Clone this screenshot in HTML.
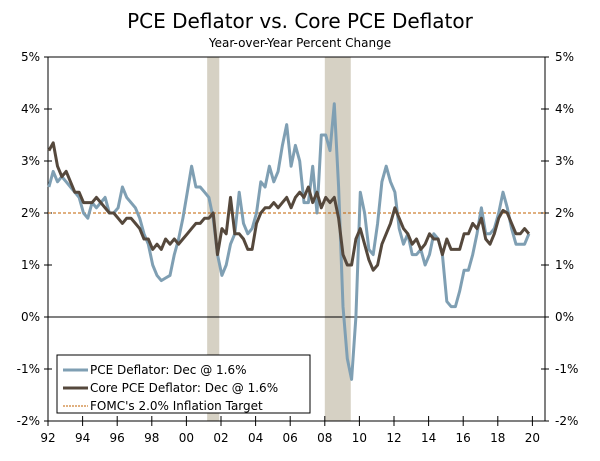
<!DOCTYPE html>
<html><head><meta charset="utf-8"><style>
body{margin:0;background:#fff;width:600px;height:457px;overflow:hidden;font-family:"DejaVu Sans","Liberation Sans",sans-serif}
svg text{font-family:"DejaVu Sans","Liberation Sans",sans-serif}
</style></head><body>
<svg id="chart" width="600" height="457">
<text x="300" y="28" text-anchor="middle" font-size="20">PCE Deflator vs. Core PCE Deflator</text>
<text x="300" y="47" text-anchor="middle" font-size="12">Year-over-Year Percent Change</text>
<g id="plot"></g>
</svg>
<script>
const startYear = 1992;
const pce = [2.5,2.8,2.6,2.7, 2.6,2.5,2.4,2.3, 2.0,1.9,2.2,2.1, 2.2,2.3,2.0,2.0, 2.1,2.5,2.3,2.2, 2.1,1.9,1.6,1.4, 1.0,0.8,0.7,0.75, 0.8,1.2,1.5,1.9, 2.4,2.9,2.5,2.5, 2.4,2.3,1.9,1.2, 0.8,1.0,1.4,1.6, 2.4,1.8,1.6,1.7, 2.0,2.6,2.5,2.9, 2.6,2.8,3.3,3.7, 2.9,3.3,3.0,2.2, 2.2,2.9,2.0,3.5, 3.5,3.2,4.1,2.5, 0.2,-0.8,-1.2,0.0, 2.4,2.0,1.3,1.2, 1.8,2.6,2.9,2.6, 2.4,1.7,1.4,1.6, 1.2,1.2,1.3,1.0, 1.2,1.6,1.5,1.2, 0.3,0.2,0.2,0.5, 0.9,0.9,1.2,1.6, 2.1,1.6,1.6,1.7, 2.0,2.4,2.1,1.7, 1.4,1.4,1.4,1.6];
const core = [3.2,3.35,2.9,2.7, 2.8,2.6,2.4,2.4, 2.2,2.2,2.2,2.3, 2.2,2.1,2.0,2.0, 1.9,1.8,1.9,1.9, 1.8,1.7,1.5,1.5, 1.3,1.4,1.3,1.5, 1.4,1.5,1.4,1.5, 1.6,1.7,1.8,1.8, 1.9,1.9,2.0,1.2, 1.7,1.6,2.3,1.6, 1.6,1.5,1.3,1.3, 1.8,2.0,2.1,2.1, 2.2,2.1,2.2,2.3, 2.1,2.3,2.4,2.3, 2.5,2.2,2.4,2.1, 2.3,2.2,2.3,1.9, 1.2,1.0,1.0,1.5, 1.7,1.4,1.1,0.9, 1.0,1.4,1.6,1.8, 2.1,1.9,1.7,1.6, 1.4,1.5,1.3,1.4, 1.6,1.5,1.5,1.2, 1.5,1.3,1.3,1.3, 1.6,1.6,1.8,1.7, 1.9,1.5,1.4,1.6, 1.9,2.05,2.0,1.8, 1.6,1.6,1.7,1.6];
const yTicks = [5,4,3,2,1,0,-1,-2];
const xTickYears = [1992,1994,1996,1998,2000,2002,2004,2006,2008,2010,2012,2014,2016,2018,2020];
const recessions = [[2001.2,2001.9],[2008.0,2009.5]];
const target = 2.0;

const L=48,R=545,T=57,B=421;
const x = yr => L + (yr-1992)*17.3;
const y = v => 317 - v*52;
const NS="http://www.w3.org/2000/svg";
const g=document.getElementById('plot');
function mk(tag,attrs,parent){const e=document.createElementNS(NS,tag);for(const k in attrs)e.setAttribute(k,attrs[k]);(parent||g).appendChild(e);return e;}

recessions.forEach(r=>{
  const e=mk('rect',{x:x(r[0]),y:T,width:x(r[1])-x(r[0]),height:B-T,fill:'#d6d1c4'});
  
  
});
const fr=mk('rect',{x:L,y:T,width:R-L,height:B-T,fill:'none',stroke:'#000','stroke-width':1});


const zl=mk('line',{x1:L,x2:R,y1:y(0),y2:y(0),stroke:'#000','stroke-width':1});


yTicks.forEach(t=>{
  const yy=y(t);
  mk('line',{x1:L-4,x2:L+4,y1:yy,y2:yy,stroke:'#000'});
  mk('line',{x1:R-4,x2:R+4,y1:yy,y2:yy,stroke:'#000'});
  const a=mk('text',{x:L-8,y:yy+4,'text-anchor':'end','font-size':12});a.textContent=t+'%';
  
  
  const b=mk('text',{x:R+10,y:yy+4,'text-anchor':'start','font-size':12});b.textContent=t+'%';
  
  
});
xTickYears.forEach(yr=>{
  const xx=x(yr);
  mk('line',{x1:xx,x2:xx,y1:B-5,y2:B+5,stroke:'#000'});
  const t=mk('text',{x:xx,y:B+21,'text-anchor':'middle','font-size':12});t.textContent=String(yr).slice(2);
  
  
});
const tl=mk('line',{x1:L,x2:R,y1:y(target),y2:y(target),stroke:'#c06000','stroke-width':1,'stroke-dasharray':'3,2'});


function path(arr){return arr.map((v,i)=>(i?'L':'M')+x(startYear+i*0.25+0.05).toFixed(1)+','+y(v).toFixed(1)).join(' ');}
const p1=mk('path',{d:path(pce),fill:'none',stroke:'#7f9fb3','stroke-width':3,'stroke-linejoin':'round'});


const p2=mk('path',{d:path(core),fill:'none',stroke:'#55483c','stroke-width':3,'stroke-linejoin':'round'});



// legend
const lg=mk('g',{});


mk('rect',{x:57,y:355,width:253,height:58,fill:'#fff',stroke:'#000'},lg);
const items=[['PCE Deflator: Dec @ 1.6%','#7f9fb3',3,''],['Core PCE Deflator: Dec @ 1.6%','#55483c',3,''],["FOMC's 2.0% Inflation Target",'#c06000',1,'2,1']];
items.forEach((it,i)=>{
  const yy=370+i*18;
  const e=mk('g',{},lg);
  
  
  mk('line',{x1:63,x2:88,y1:yy,y2:yy,stroke:it[1],'stroke-width':it[2],'stroke-dasharray':it[3]},e);
  const t=mk('text',{x:90,y:yy+4,'font-size':12},e);t.textContent=it[0];
});
</script>
</body></html>
